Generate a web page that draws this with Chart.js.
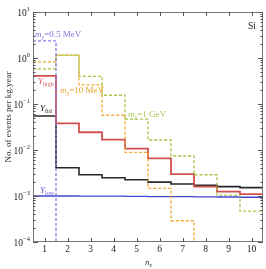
<!DOCTYPE html>
<html><head><meta charset="utf-8">
<script src="https://cdn.jsdelivr.net/npm/chart.js@4.4.1/dist/chart.umd.min.js"></script>
<style>html,body{margin:0;padding:0;background:#fff}#wrap{width:266px;height:269px}</style>
</head><body><div id="wrap"><canvas id="c"></canvas></div>
<script>
// ---- data ----
const bins = [1,2,3,4,5,6,7,8,9,10];
const xTickLabels = ['1','2','3','4','5','6','7','8','9','10'];
const yDecades = [-4,-3,-2,-1,0,1];
const yLow  = [0.00100,0.00100,0.00099,0.00099,0.00098,0.00097,0.00097,0.00096,0.00095,0.00094];
const yFid  = [0.055,0.0041,0.0029,0.0025,0.00225,0.0020,0.00182,0.0017,0.0016,0.00152];
const yHigh = [0.41,0.038,0.0243,0.0168,0.0107,0.0066,0.0030,0.0016,0.00124,0.0011];
// values below the plotted range (drop to the floor) are given as 1e-5
const m05MeV = [2.35,1e-5,1e-5,1e-5,1e-5,1e-5,1e-5,1e-5,1e-5,1e-5];
const m10MeV = [0.82,1.15,0.26,0.057,0.0089,0.00147,0.00029,1e-5,1e-5,1e-5];
const m1GeV  = [0.58,1.16,0.40,0.155,0.047,0.0165,0.0074,0.0029,0.00105,0.00047];

function steps(vals){
  const pts=[];
  bins.forEach((b,i)=>{pts.push({x:b-0.5,y:vals[i]});pts.push({x:b+0.5,y:vals[i]});});
  return pts;
}
function ds(vals,color,width,dash,order){
  return {data:steps(vals),borderColor:color,borderWidth:width,borderDash:dash||[],
    pointRadius:0,fill:false,tension:0,order:order,borderCapStyle:'butt',borderJoinStyle:'miter'};
}

const SERIF='"Liberation Serif","DejaVu Serif",serif';

function richText(ctx,x,y,parts,color){
  // parts: [text, size, italic, dy]
  ctx.fillStyle=color;ctx.textBaseline='alphabetic';ctx.textAlign='left';
  let cx=x;
  for(const p of parts){
    ctx.font=(p[2]?'italic ':'')+p[1]+'px '+SERIF;
    ctx.fillText(p[0],cx,y+(p[3]||0));
    cx+=ctx.measureText(p[0]).width;
  }
}

const decor={
  id:'decor',
  afterDatasetsDraw(chart){
    const ctx=chart.ctx, a=chart.chartArea, xs=chart.scales.x, ys=chart.scales.y;
    ctx.save();
    // frame
    ctx.strokeStyle='#777';ctx.lineWidth=1;
    ctx.strokeRect(Math.round(a.left)+0.5,Math.round(a.top)+0.5,Math.round(a.right-a.left)-1,Math.round(a.bottom-a.top)-1);
    // x ticks (bottom & top, inward)
    ctx.beginPath();
    bins.forEach(b=>{
      const px=Math.round(xs.getPixelForValue(b))+0.5;
      ctx.moveTo(px,a.bottom);ctx.lineTo(px,a.bottom-4);
      ctx.moveTo(px,a.top);ctx.lineTo(px,a.top+4);
    });
    // y ticks (left & right, inward)
    yDecades.forEach(d=>{
      for(let m=1;m<10;m++){
        const v=m*Math.pow(10,d);
        if(v>Math.pow(10,1.0001))continue;
        const py=Math.round(ys.getPixelForValue(v))+0.5;
        const L=(m===1)?5:2.5;
        ctx.moveTo(a.left,py);ctx.lineTo(a.left+L,py);
        ctx.moveTo(a.right,py);ctx.lineTo(a.right-L,py);
      }
    });
    ctx.strokeStyle='#555';ctx.stroke();
    // x tick labels
    ctx.fillStyle='#222';ctx.font='9.5px '+SERIF;ctx.textAlign='center';ctx.textBaseline='middle';
    bins.forEach((b,i)=>ctx.fillText(xTickLabels[i],xs.getPixelForValue(b),a.bottom+7.5));
    // y tick labels 10^d
    yDecades.forEach(d=>{
      const py=ys.getPixelForValue(Math.pow(10,d));
      const exp=(d<0?'\u2212':'')+Math.abs(d);
      ctx.font='6.5px '+SERIF;const ew=ctx.measureText(exp).width;
      const right=a.left-3;
      ctx.textAlign='left';ctx.textBaseline='alphabetic';ctx.fillStyle='#222';
      ctx.fillText(exp,right-ew,py-1);
      ctx.font='9.5px '+SERIF;const tw=ctx.measureText('10').width;
      ctx.fillText('10',right-ew-tw,py+3.5);
    });
    // axis titles
    ctx.save();
    ctx.translate(9,117);ctx.rotate(-Math.PI/2);
    ctx.font='9px '+SERIF;ctx.textAlign='center';ctx.textBaseline='middle';ctx.fillStyle='#333';
    ctx.fillText('No. of events per kg.year',0,0);
    ctx.restore();
    richText(ctx,145,265,[['n',9,true],['e',6,true,2]],'#333');
    // annotations
    richText(ctx,35,37,[['m',9,true],['\u03c7',6,true,2],['=0.5 MeV',9,false]],'rgb(130,120,225)');
    richText(ctx,38,84,[['Y',9,true],['high',6,false,2]],'rgb(215,95,95)');
    richText(ctx,60,93,[['m',9,true],['\u03c7',6,true,2],['=10 MeV',9,false]],'rgb(235,165,45)');
    richText(ctx,40,111,[['Y',9,true],['fid',6,false,2]],'#222');
    richText(ctx,128,117,[['m',9,true],['\u03c7',6,true,2],['=1 GeV',9,false]],'rgb(170,200,85)');
    richText(ctx,40,193,[['Y',9,true],['low',6,false,2]],'rgb(95,95,215)');
    richText(ctx,248,29,[['Si',9.5,false]],'#222');
    ctx.restore();
  }
};

new Chart(document.getElementById('c'),{
  type:'line',
  data:{datasets:[
    ds(m05MeV,'rgb(135,125,230)',1.3,[3,2],1),
    ds(m1GeV,'rgb(165,195,70)',1.3,[3,2],2),
    ds(m10MeV,'rgb(240,170,50)',1.3,[3,2],3),
    ds(yHigh,'rgb(210,80,80)',1.8,[],4),
    ds(yFid,'rgb(40,40,40)',1.6,[],5),
    ds(yLow,'rgb(70,70,205)',1.3,[],6)
  ]},
  options:{
    responsive:true,maintainAspectRatio:false,animation:false,devicePixelRatio:1,
    layout:{padding:{left:33,right:3,top:12,bottom:27}},
    plugins:{legend:{display:false},tooltip:{enabled:false}},
    scales:{
      x:{type:'linear',min:0.5,max:10.5,display:false},
      y:{type:'logarithmic',min:1e-4,max:10,display:false}
    }
  },
  plugins:[decor]
});
</script></body></html>
